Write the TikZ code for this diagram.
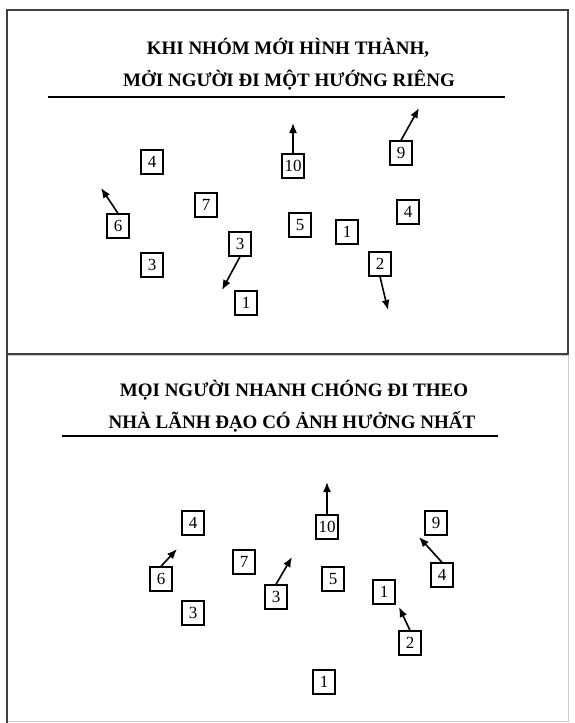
\documentclass[tikz,border=0pt]{standalone}
\usepackage{fontspec}
\setmainfont{Liberation Serif}
\usetikzlibrary{arrows.meta, positioning}

\begin{document}
\begin{tikzpicture}[x=1pt, y=-1pt,
    member/.style={rectangle, draw, line width=1.3pt, minimum width=22pt, minimum height=24pt, inner sep=1pt, font=\fontsize{17}{17}\selectfont},
    arr/.style={-{Latex[length=10pt, width=8pt]}, line width=1.6pt},
    heading/.style={anchor=base, font=\fontsize{19}{23}\selectfont\bfseries},
    frame/.style={draw=black!75, line width=1.5pt}
]
\useasboundingbox (0,0) rectangle (574,723);
\fill[white] (0,0) rectangle (574,723);

% upper panel
\draw[frame] (7,10) rectangle (568,354);
\node[heading] (h1a) at (288,54) {KHI NHÓM MỚI HÌNH THÀNH,};
\node[heading] (h1b) at (289,86) {MỞI NGƯỜI ĐI MỘT HƯỚNG RIÊNG};
\draw[line width=1.2pt] (48,97) -- (505,97);

\node[member] (a4) at (152,162) {4};
\node[member] (a10) at (293,166) {10};
\node[member] (a9) at (401,153) {9};
\node[member] (a6) at (118,226) {6};
\node[member] (a7) at (206,205) {7};
\node[member] (a5) at (300,225) {5};
\node[member] (a1) at (347,232) {1};
\node[member] (a4r) at (408,212) {4};
\node[member] (a3) at (240,244) {3};
\node[member] (a3l) at (152,265) {3};
\node[member] (a2) at (380,264) {2};
\node[member] (a1b) at (246,303) {1};

\coordinate (ta10) at (293,123);
\coordinate (ta9) at (419,108);
\coordinate (ta6) at (101,188);
\coordinate (ta3) at (222,290);
\coordinate (ta2) at (388,310);
\draw[arr] (a10.north) -- (ta10);
\draw[arr] (a9.north) -- (ta9);
\draw[arr] (a6.north) -- (ta6);
\draw[arr] (a3.south) -- (ta3);
\draw[arr] (a2.south) -- (ta2);

% lower panel
\draw[draw=black!20, line width=0.6pt] (7,355) rectangle (568,721);
\draw[frame] (7,355) -- (7,723);
\node[heading] (h2a) at (294,396) {MỌI NGƯỜI NHANH CHÓNG ĐI THEO};
\node[heading] (h2b) at (292,428) {NHÀ LÃNH ĐẠO CÓ ẢNH HƯỞNG NHẤT};
\draw[line width=1.2pt] (62,436) -- (498,436);

\node[member] (b4) at (193,523) {4};
\node[member] (b10) at (327,527) {10};
\node[member] (b9) at (436,523) {9};
\node[member] (b6) at (161,579) {6};
\node[member] (b7) at (244,562) {7};
\node[member] (b3) at (276,597) {3};
\node[member] (b5) at (333,579) {5};
\node[member] (b1) at (384,592) {1};
\node[member] (b4r) at (442,575) {4};
\node[member] (b2) at (410,643) {2};
\node[member] (b3l) at (193,613) {3};
\node[member] (b1b) at (324,682) {1};

\coordinate (tb10) at (327,482);
\coordinate (tb6) at (177,549);
\coordinate (tb3) at (292,557);
\coordinate (tb4r) at (419,537);
\coordinate (tb2) at (399,607);
\draw[arr] (b10.north) -- (tb10);
\draw[arr] (b6.north) -- (tb6);
\draw[arr] (b3.north) -- (tb3);
\draw[arr] (b4r.north) -- (tb4r);
\draw[arr] (b2.north) -- (tb2);

\end{tikzpicture}
\end{document}
